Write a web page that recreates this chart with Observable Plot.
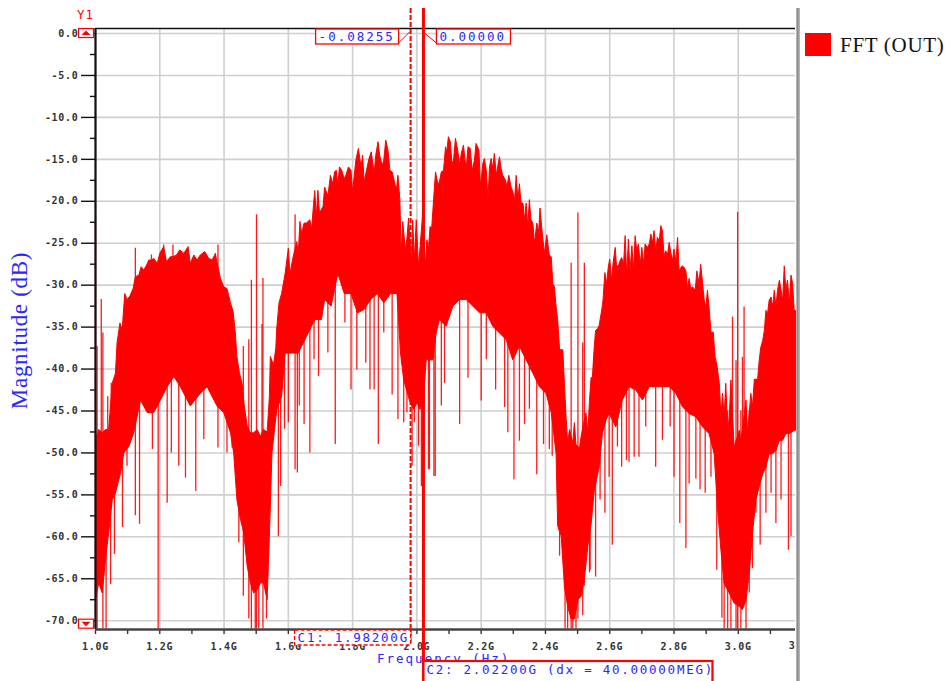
<!DOCTYPE html>
<html><head><meta charset="utf-8">
<script src="https://cdn.jsdelivr.net/npm/d3@7"></script>
<script src="https://cdn.jsdelivr.net/npm/@observablehq/plot@0.6"></script>
<style>
html,body{margin:0;padding:0;background:#fff;}
#chart{position:relative;width:948px;height:681px;overflow:hidden;}
</style></head><body><div id="chart"></div>
<script>
// ---- data (frequency in GHz, magnitude in dB) ----
const upperEdge = [
[1.000,-48.4],[1.010,-47.2],[1.021,-47.6],[1.031,-47.2],[1.041,-47.2],[1.052,-41.7],[1.062,-40.5],[1.067,-36.9],[1.076,-34.5],[1.083,-35.3],
[1.091,-31.0],[1.098,-31.7],[1.107,-31.3],[1.117,-30.4],[1.124,-29.0],[1.135,-28.8],[1.142,-27.8],[1.150,-28.2],[1.159,-27.6],[1.166,-27.0],
[1.174,-27.0],[1.181,-26.8],[1.192,-27.4],[1.200,-26.2],[1.212,-25.4],[1.221,-27.2],[1.233,-26.6],[1.241,-26.6],[1.252,-26.4],[1.262,-25.8],
[1.275,-26.2],[1.288,-25.4],[1.295,-27.4],[1.306,-26.4],[1.316,-27.0],[1.326,-26.4],[1.340,-26.0],[1.352,-26.8],[1.363,-27.0],[1.373,-26.2],
[1.381,-27.8],[1.389,-29.2],[1.399,-30.2],[1.409,-30.4],[1.420,-32.1],[1.428,-33.1],[1.435,-35.7],[1.440,-38.5],[1.448,-40.5],[1.456,-41.7],
[1.463,-44.4],[1.472,-46.8],[1.482,-47.6],[1.492,-47.6],[1.503,-47.2],[1.513,-48.0],[1.523,-47.2],[1.534,-47.5],[1.541,-43.3],[1.544,-38.5],
[1.554,-39.5],[1.561,-37.5],[1.564,-35.1],[1.571,-32.1],[1.579,-31.0],[1.590,-28.6],[1.600,-25.6],[1.605,-28.6],[1.615,-26.6],[1.626,-24.8],
[1.631,-26.2],[1.636,-22.4],[1.641,-23.8],[1.649,-22.6],[1.656,-22.6],[1.667,-22.2],[1.672,-23.4],[1.682,-18.7],[1.687,-21.8],[1.692,-18.7],
[1.697,-21.4],[1.708,-20.6],[1.713,-18.3],[1.723,-19.4],[1.731,-16.9],[1.738,-17.9],[1.744,-16.5],[1.749,-16.3],[1.754,-18.1],[1.759,-15.9],
[1.766,-16.3],[1.774,-17.3],[1.779,-16.9],[1.787,-15.9],[1.795,-16.3],[1.800,-18.8],[1.810,-15.1],[1.818,-13.7],[1.826,-15.9],[1.831,-14.5],
[1.836,-17.7],[1.841,-16.7],[1.851,-14.9],[1.858,-14.1],[1.867,-16.7],[1.872,-14.5],[1.879,-12.9],[1.884,-14.5],[1.892,-15.7],[1.897,-15.1],
[1.903,-12.7],[1.910,-13.9],[1.916,-16.3],[1.923,-16.5],[1.928,-17.3],[1.936,-18.7],[1.941,-16.9],[1.947,-19.8],[1.951,-26.2],[1.956,-22.4],
[1.964,-25.8],[1.969,-24.4],[1.974,-22.0],[1.983,-27.4],[1.987,-22.2],[1.992,-27.0],[1.998,-22.2],[2.005,-27.8],[2.010,-25.4],[2.018,-21.4],
[2.026,-27.8],[2.031,-24.6],[2.036,-25.6],[2.041,-23.0],[2.046,-23.2],[2.052,-19.8],[2.058,-16.5],[2.065,-17.9],[2.070,-17.7],[2.076,-16.5],
[2.083,-16.3],[2.089,-13.5],[2.093,-14.1],[2.098,-12.3],[2.104,-12.9],[2.109,-15.5],[2.114,-15.1],[2.120,-12.5],[2.127,-13.9],[2.133,-15.7],
[2.138,-14.3],[2.145,-13.3],[2.153,-16.3],[2.159,-13.5],[2.166,-13.7],[2.172,-16.3],[2.179,-15.1],[2.184,-13.1],[2.193,-13.9],[2.198,-18.3],
[2.205,-15.5],[2.210,-14.9],[2.216,-16.3],[2.221,-19.8],[2.226,-15.9],[2.231,-14.9],[2.236,-16.1],[2.241,-14.3],[2.247,-16.9],[2.252,-15.7],
[2.257,-14.7],[2.262,-16.1],[2.267,-16.9],[2.276,-17.5],[2.280,-18.3],[2.286,-16.9],[2.293,-18.3],[2.298,-18.8],[2.304,-19.8],[2.309,-16.9],
[2.314,-19.8],[2.319,-17.9],[2.324,-20.2],[2.330,-20.2],[2.335,-22.2],[2.340,-20.2],[2.345,-23.0],[2.350,-19.8],[2.355,-22.2],[2.361,-22.6],
[2.366,-25.0],[2.373,-22.6],[2.379,-23.6],[2.383,-20.8],[2.390,-23.8],[2.397,-26.2],[2.404,-24.0],[2.412,-26.4],[2.418,-26.6],[2.423,-29.8],
[2.428,-30.2],[2.433,-32.5],[2.438,-34.1],[2.444,-37.7],[2.454,-37.7],[2.459,-41.7],[2.464,-45.6],[2.469,-48.8],[2.475,-47.2],[2.485,-48.8],
[2.490,-46.4],[2.495,-49.0],[2.506,-49.4],[2.511,-48.0],[2.516,-47.0],[2.526,-45.2],[2.532,-47.6],[2.537,-43.7],[2.542,-41.0],[2.546,-41.0],
[2.551,-37.8],[2.556,-35.4],[2.562,-35.2],[2.567,-34.8],[2.575,-33.0],[2.579,-31.8],[2.585,-28.5],[2.590,-29.8],[2.596,-27.7],[2.600,-26.9],
[2.606,-29.4],[2.610,-27.5],[2.617,-25.5],[2.621,-27.7],[2.627,-27.7],[2.632,-27.1],[2.637,-26.7],[2.643,-27.5],[2.648,-24.1],[2.653,-29.0],
[2.658,-24.5],[2.663,-28.3],[2.669,-25.3],[2.674,-28.3],[2.679,-24.1],[2.684,-25.9],[2.689,-25.1],[2.695,-27.5],[2.700,-25.5],[2.705,-27.5],
[2.710,-25.1],[2.717,-25.5],[2.723,-25.1],[2.728,-23.9],[2.733,-24.9],[2.738,-23.5],[2.743,-26.1],[2.748,-24.3],[2.754,-24.7],[2.759,-22.9],
[2.764,-23.5],[2.769,-26.5],[2.774,-25.9],[2.780,-26.3],[2.785,-24.9],[2.790,-26.1],[2.795,-27.1],[2.800,-25.7],[2.806,-27.3],[2.811,-24.3],
[2.816,-28.3],[2.821,-27.9],[2.826,-27.7],[2.832,-27.9],[2.837,-28.3],[2.842,-30.4],[2.847,-29.2],[2.852,-30.4],[2.858,-30.2],[2.866,-30.6],
[2.871,-28.3],[2.878,-29.8],[2.883,-27.5],[2.889,-29.8],[2.894,-31.8],[2.899,-32.6],[2.904,-30.6],[2.909,-32.6],[2.915,-35.6],[2.922,-35.6],
[2.928,-38.6],[2.933,-39.4],[2.941,-41.7],[2.946,-45.7],[2.951,-42.9],[2.956,-45.7],[2.961,-41.7],[2.967,-47.3],[2.972,-45.7],[2.977,-41.3],
[2.987,-49.3],[3.003,-47.3],[3.008,-48.5],[3.024,-43.7],[3.029,-47.7],[3.034,-45.3],[3.039,-42.9],[3.044,-44.5],[3.050,-41.2],[3.055,-41.2],
[3.060,-41.3],[3.065,-39.0],[3.070,-37.4],[3.076,-36.6],[3.081,-35.4],[3.086,-33.0],[3.091,-33.4],[3.096,-31.8],[3.102,-31.4],[3.107,-32.6],
[3.112,-30.6],[3.117,-32.6],[3.122,-30.6],[3.128,-29.4],[3.133,-30.6],[3.138,-31.8],[3.143,-27.7],[3.148,-30.6],[3.153,-29.4],[3.159,-32.2],
[3.164,-28.8],[3.169,-29.8],[3.174,-33.0],[3.178,-33.0]
];
const lowerEdge = [
[1.000,-67.5],[1.010,-65.5],[1.021,-66.7],[1.031,-62.7],[1.041,-59.5],[1.052,-55.6],[1.062,-54.8],[1.078,-52.4],[1.088,-50.0],[1.104,-49.2],
[1.119,-47.6],[1.140,-43.7],[1.161,-45.2],[1.181,-45.2],[1.202,-43.7],[1.223,-42.1],[1.244,-40.9],[1.264,-42.1],[1.295,-44.4],[1.326,-42.9],
[1.347,-42.1],[1.378,-44.4],[1.399,-45.2],[1.420,-47.6],[1.430,-50.0],[1.440,-55.6],[1.451,-57.9],[1.461,-59.5],[1.472,-63.5],[1.482,-65.5],
[1.492,-66.7],[1.503,-66.3],[1.513,-65.5],[1.523,-65.5],[1.534,-67.5],[1.541,-60.0],[1.549,-50.0],[1.564,-44.8],[1.579,-43.3],[1.590,-38.1],
[1.610,-38.1],[1.631,-38.1],[1.641,-37.3],[1.662,-35.7],[1.682,-34.1],[1.703,-34.1],[1.713,-31.7],[1.733,-32.5],[1.754,-28.6],[1.774,-31.0],
[1.795,-31.0],[1.815,-33.3],[1.836,-32.9],[1.856,-31.7],[1.877,-31.0],[1.897,-32.1],[1.918,-31.0],[1.938,-31.0],[1.949,-38.1],[1.959,-41.3],
[1.979,-44.0],[1.990,-44.8],[2.000,-44.0],[2.010,-44.8],[2.021,-43.3],[2.029,-38.9],[2.050,-38.9],[2.060,-35.7],[2.070,-34.1],[2.091,-34.9],
[2.112,-32.5],[2.133,-31.7],[2.153,-31.7],[2.174,-32.5],[2.195,-33.3],[2.216,-33.3],[2.236,-34.9],[2.257,-35.7],[2.278,-36.5],[2.298,-38.9],
[2.319,-37.3],[2.340,-38.9],[2.361,-40.5],[2.381,-42.1],[2.402,-42.9],[2.418,-45.2],[2.433,-50.0],[2.438,-58.7],[2.449,-59.9],[2.459,-65.9],
[2.469,-68.3],[2.480,-69.8],[2.490,-69.8],[2.501,-67.5],[2.511,-67.1],[2.521,-65.1],[2.532,-61.1],[2.542,-58.5],[2.552,-54.5],[2.567,-51.7],
[2.577,-47.7],[2.588,-46.1],[2.598,-45.3],[2.619,-46.9],[2.639,-43.7],[2.660,-42.1],[2.681,-42.5],[2.702,-43.7],[2.723,-42.1],[2.743,-42.1],
[2.764,-42.1],[2.785,-42.1],[2.806,-42.9],[2.826,-44.5],[2.847,-45.3],[2.868,-45.7],[2.889,-46.9],[2.909,-47.7],[2.925,-50.1],[2.935,-56.4],
[2.946,-61.6],[2.956,-65.6],[2.972,-66.7],[2.987,-67.9],[3.003,-68.3],[3.013,-68.7],[3.024,-67.5],[3.034,-64.4],[3.044,-59.6],[3.055,-55.6],
[3.065,-54.0],[3.076,-52.5],[3.086,-51.7],[3.096,-50.1],[3.107,-50.1],[3.117,-49.7],[3.128,-48.5],[3.138,-48.5],[3.148,-47.7],[3.159,-47.7],
[3.174,-47.3],[3.178,-47.3]
];
// individual spectral lines: [frequency, top dB, bottom dB]
const spikes = [
[1.000,-21.8,-71],[1.005,-37.3,-71],[1.018,-31.7,-60],[1.023,-35.7,-71],[1.033,-50,-71],[1.038,-43.3,-55],[1.047,-50,-65.7],[1.049,-41.7,-55],
[1.059,-50,-62.1],[1.084,-45,-58.9],[1.098,-40,-51.6],[1.124,-25.6,-57.5],[1.137,-35,-58.5],[1.174,-26.4,-40],[1.177,-40,-49.6],[1.195,-40,-71],
[1.212,-25.2,-40],[1.223,-38,-56.0],[1.236,-38,-50.0],[1.241,-25.2,-40],[1.259,-38,-51.6],[1.280,-38,-53.0],[1.312,-38,-54.6],[1.337,-38,-48.4],
[1.381,-25.2,-49.4],[1.409,-40,-50.0],[1.425,-40,-49.4],[1.446,-45,-60.7],[1.460,-37.3,-67.1],[1.477,-36.5,-69.8],[1.485,-29.4,-71],[1.497,-50,-71],
[1.501,-21.6,-71],[1.508,-50,-71],[1.518,-34.7,-65],[1.521,-29.2,-71],[1.532,-50,-69.8],
[1.569,-40,-60],[1.576,-40,-54.0],[1.588,-35,-47.2],[1.600,-30,-46.4],[1.621,-21.6,-52.0],[1.628,-35,-52.4],[1.634,-35,-44.4],[1.649,-35,-46.6],
[1.667,-30,-50.0],[1.680,-30,-38.9],[1.694,-30,-40.9],[1.723,-30,-38.1],[1.746,-25,-49.0],[1.776,-25,-34.5],[1.795,-25,-42.5],[1.813,-25,-40.1],
[1.841,-25,-39.3],[1.854,-25,-42.5],[1.867,-25,-42.5],[1.880,-25,-49.0],[1.897,-25,-35.7],[1.923,-25,-43.1],[1.941,-25,-46.0],[1.959,-30,-46.4],
[1.969,-30,-45.2],[1.985,-30,-51.6],[1.992,-30,-46.4],[2.005,-30,-49.2],[2.014,-30,-54.0],[2.036,-30,-52.0],[2.053,-30,-52.8],
[2.021,-21.4,-40],[2.039,-30,-52.0],[2.057,-30,-52.8],[2.076,-30,-44.4],[2.086,-30,-41.7],[2.133,-25,-46.6],[2.159,-25,-41.1],[2.200,-25,-43.8],
[2.216,-25,-38.9],[2.245,-25,-42.5],[2.273,-25,-44.6],[2.283,-25,-47.6],[2.302,-25,-53.2],[2.319,-25,-48.6],[2.335,-25,-46.6],[2.350,-25,-44.8],
[2.373,-30,-52.6],[2.394,-30,-49.0],[2.412,-30,-49.6],[2.421,-30,-50.4],[2.444,-40,-62.3],[2.461,-45,-71],[2.469,-50,-71],[2.480,-27.4,-71],
[2.485,-50,-71],[2.495,-50,-71],[2.501,-21.4,-69.8],[2.516,-36.9,-69.4],[2.521,-27.4,-65.9],[2.537,-45,-64.3],
[2.539,-45,-64.0],[2.556,-40,-64.8],[2.570,-40,-55.6],[2.585,-35,-57.2],[2.598,-35,-52.9],[2.608,-35,-61.0],[2.624,-35,-49.3],[2.637,-35,-51.7],
[2.652,-35,-50.9],[2.660,-35,-51.1],[2.676,-35,-50.5],[2.691,-35,-50.5],[2.712,-35,-46.9],[2.743,-35,-51.7],[2.764,-35,-48.5],[2.788,-35,-46.9],
[2.800,-35,-52.9],[2.818,-35,-58.4],[2.837,-35,-61.4],[2.847,-35,-53.7],[2.868,-35,-53.1],[2.881,-35,-54.4],[2.897,-35,-54.8],[2.915,-40,-52.9],
[2.933,-40,-64.0],[2.949,-45,-69.7],[2.956,-45,-71],[2.967,-45,-71],[2.977,-45,-71],[2.982,-33.8,-60],[2.993,-39.0,-71],[2.998,-21.3,-71],
[3.008,-45,-71],[3.013,-38.6,-65],[3.018,-32.6,-65],[3.024,-45,-71],[3.034,-45,-66.7],[3.044,-45,-63.8],[3.055,-45,-57.2],[3.068,-40,-61.0],
[3.086,-40,-57.2],[3.102,-35,-54.8],[3.117,-35,-58.4],[3.133,-35,-55.6],[3.156,-35,-61.6],[3.164,-35,-60.0]
];
const yMajorTicks = [0,-5,-10,-15,-20,-25,-30,-35,-40,-45,-50,-55,-60,-65,-70];
const yMinorTicks = [-2.5,-7.5,-12.5,-17.5,-22.5,-27.5,-32.5,-37.5,-42.5,-47.5,-52.5,-57.5,-62.5,-67.5];
const xMajorTicks = [1.0,1.2,1.4,1.6,1.8,2.0,2.2,2.4,2.6,2.8,3.0];
const xMinorTicks = [1.1,1.3,1.5,1.7,1.9,2.1,2.3,2.5,2.7,2.9,3.1];
const xLabelTicks = [1.0,1.2,1.4,1.6,1.8,2.0,2.2,2.4,2.6,2.8,3.0,3.2];
const xDomain = [1.0, 3.178];
const yDomain = [-71.05, 0.6];
const cursorFreqs = [1.982, 2.022];
const cursorValues = ["-0.08255", "0.00000"];
const cursorLabels = ["C1: 1.98200G", "C2: 2.02200G (dx = 40.00000MEG)"];
const seriesName = "FFT (OUT)";
const yLabel = "Magnitude (dB)";
const xLabel = "Frequency (Hz)";

// ---- build tables ----
const body = [
  ...upperEdge.map(([f, db]) => ({f, db})),
  ...lowerEdge.slice().reverse().map(([f, db]) => ({f, db}))
];
const spikeRows = spikes.map(([f, top, bottom]) => ({f, top, bottom}));
const RED = "#ff0000";
const BLUE = "#2727ff";
const TICK_FONT = 10;

const plot = Plot.plot({
  width: 948, height: 681,
  marginLeft: 95, marginRight: 153, marginTop: 28, marginBottom: 52,
  x: {domain: xDomain},
  y: {domain: yDomain},
  style: {background: "transparent", fontFamily: "DejaVu Sans Mono", fontSize: TICK_FONT + "px", letterSpacing: "0.7px"},
  marks: [
    Plot.gridX(xMajorTicks, {stroke: "#cfcfcf", strokeOpacity: 1, strokeWidth: 1.6}),
    Plot.gridY(yMajorTicks, {stroke: "#cfcfcf", strokeOpacity: 1, strokeWidth: 1.6}),
    Plot.line(body, {x: "f", y: "db", fill: RED, stroke: RED, strokeWidth: 1}),
    Plot.ruleX(spikeRows, {x: "f", y1: "top", y2: "bottom", stroke: RED, strokeWidth: 1.3, strokeOpacity: 0.9}),
    Plot.axisY(yMajorTicks, {tickSize: 14, tickPadding: 3, tickFormat: d => d.toFixed(1), label: null,
      stroke: "#111", strokeWidth: 1.4, fill: "#333", fontWeight: "bold"}),
    Plot.axisY(yMinorTicks, {tickSize: 5, tickFormat: () => "", label: null, stroke: "#111", strokeWidth: 1.4}),
    Plot.axisX(xMajorTicks, {tickSize: 5, tickPadding: 8, tickFormat: d => d.toFixed(1) + "G", label: null,
      stroke: "#333", strokeWidth: 1.4, fill: "#333", fontWeight: "bold"}),
    Plot.axisX(xMinorTicks, {tickSize: 5, tickFormat: () => "", label: null, stroke: "#333", strokeWidth: 1.4}),
    Plot.ruleX([xDomain[0]], {stroke: "#111", strokeWidth: 2.2}),
    Plot.ruleY([yDomain[1]], {stroke: "#111", strokeWidth: 1.5}),
    Plot.ruleY([yDomain[0]], {stroke: "#444", strokeWidth: 2.5})
  ]
});
document.getElementById("chart").appendChild(plot);

// ---- annotations positioned through Plot's scales ----
const sx = plot.scale("x"), sy = plot.scale("y");
const X = v => sx.apply(v), Y = v => sy.apply(v);
const svg = d3.select(plot);
const g = svg.append("g").attr("text-anchor", "start");
const monoStyle = s => s.attr("font-family", "DejaVu Sans Mono").attr("font-size", 12.5)
  .attr("letter-spacing", 1.75).attr("text-anchor", "start");

const xLeft = X(xDomain[0]), xRight = X(xDomain[1]);
const yTop = Y(yDomain[1]), yBot = Y(yDomain[0]);

// clipped label of the 3.2G tick
const clipId = "clipR";
svg.append("defs").append("clipPath").attr("id", clipId).append("rect")
  .attr("x", 0).attr("y", 0).attr("width", xRight).attr("height", 681);
g.append("text").attr("clip-path", `url(#${clipId})`)
  .attr("x", X(xLabelTicks[xLabelTicks.length - 1])).attr("y", yBot + 13).attr("dy", "0.71em")
  .attr("text-anchor", "middle").attr("font-family", "DejaVu Sans Mono").attr("font-size", TICK_FONT)
  .attr("letter-spacing", 0.7).attr("font-weight", "bold").attr("fill", "#333")
  .text(xLabelTicks[xLabelTicks.length - 1].toFixed(1) + "G");

// Y1 marker and scroll boxes
monoStyle(g.append("text")).attr("x", xLeft - 18).attr("y", 19)
  .attr("fill", RED).attr("letter-spacing", 1).text("Y1");
[[Y(0) - 4.5, "up"], [Y(-70) - 1, "down"]].forEach(([top, dir]) => {
  const bx = xLeft - 16.5, bw = 15, bh = 9;
  g.append("rect").attr("x", bx).attr("y", top).attr("width", bw).attr("height", bh)
    .attr("fill", "#fff").attr("stroke", RED).attr("stroke-width", 1.2);
  const cx = bx + bw / 2, cy = top + bh / 2;
  const pts = dir === "up"
    ? [[cx - 4.5, cy + 2], [cx + 4.5, cy + 2], [cx, cy - 2.5]]
    : [[cx - 4.5, cy - 2], [cx + 4.5, cy - 2], [cx, cy + 2.5]];
  g.append("polygon").attr("points", pts.map(p => p.join(",")).join(" ")).attr("fill", RED);
});

// axis titles
g.append("text").attr("transform", `translate(27,${(yTop + yBot) / 2 + 2}) rotate(-90)`)
  .attr("text-anchor", "middle").attr("font-family", "Liberation Serif").attr("font-size", 23)
  .attr("fill", BLUE).text(yLabel);
monoStyle(g.append("text")).attr("x", 377).attr("y", 663).attr("letter-spacing", 2).attr("fill", BLUE).text(xLabel);

// cursors
const c1 = X(cursorFreqs[0]), c2 = X(cursorFreqs[1]);
g.append("line").attr("x1", c1).attr("x2", c1).attr("y1", 8).attr("y2", 645)
  .attr("stroke", RED).attr("stroke-width", 2).attr("stroke-dasharray", "5,2");
g.append("line").attr("x1", c2).attr("x2", c2).attr("y1", 8).attr("y2", 681)
  .attr("stroke", RED).attr("stroke-width", 3);

// cursor value boxes at top
const vb1 = {x: c1 - 95, w: 83};
g.append("polyline").attr("points", `${vb1.x + vb1.w},${yTop + 15} ${c1 - 1},${yTop + 4}`)
  .attr("fill", "none").attr("stroke", RED).attr("stroke-width", 1);
g.append("rect").attr("x", vb1.x).attr("y", yTop + 1).attr("width", vb1.w).attr("height", 15)
  .attr("fill", "#fff").attr("stroke", RED).attr("stroke-width", 1.3);
monoStyle(g.append("text")).attr("x", vb1.x + 3).attr("y", yTop + 13).attr("letter-spacing", 2)
  .attr("fill", BLUE).text(cursorValues[0]);
const vb2 = {x: c2 + 13, w: 74};
g.append("polyline").attr("points", `${c2 + 1},${yTop + 5} ${vb2.x},${yTop + 15}`)
  .attr("fill", "none").attr("stroke", RED).attr("stroke-width", 1);
g.append("rect").attr("x", vb2.x).attr("y", yTop + 1).attr("width", vb2.w).attr("height", 15)
  .attr("fill", "#fff").attr("stroke", RED).attr("stroke-width", 1.3);
monoStyle(g.append("text")).attr("x", vb2.x + 3).attr("y", yTop + 13).attr("letter-spacing", 2)
  .attr("fill", BLUE).text(cursorValues[1]);

// cursor label boxes at bottom
g.append("rect").attr("x", c1 - 116).attr("y", yBot + 1).attr("width", 116).attr("height", 15)
  .attr("fill", "#fff").attr("stroke", RED).attr("stroke-width", 1.3).attr("stroke-dasharray", "4,2");
monoStyle(g.append("text")).attr("x", c1 - 113).attr("y", yBot + 13).attr("fill", BLUE).text(cursorLabels[0]);
g.append("rect").attr("x", c2).attr("y", 661).attr("width", 289).attr("height", 22)
  .attr("fill", "#fff").attr("stroke", RED).attr("stroke-width", 2.2);
monoStyle(g.append("text")).attr("x", c2 + 3).attr("y", 674).attr("fill", BLUE).text(cursorLabels[1]);

// separator and legend
g.append("rect").attr("x", xRight + 1).attr("y", 8).attr("width", 4).attr("height", 673).attr("fill", "#b4b4b4");
g.append("rect").attr("x", xRight + 2).attr("y", 8).attr("width", 1.5).attr("height", 673).attr("fill", "#8c8c8c");
g.append("rect").attr("x", 805).attr("y", 33).attr("width", 26).attr("height", 23).attr("fill", RED);
g.append("text").attr("x", 840).attr("y", 52).attr("text-anchor", "start").attr("font-family", "Liberation Serif")
  .attr("font-size", 21).attr("fill", "#111").text(seriesName);
</script></body></html>
